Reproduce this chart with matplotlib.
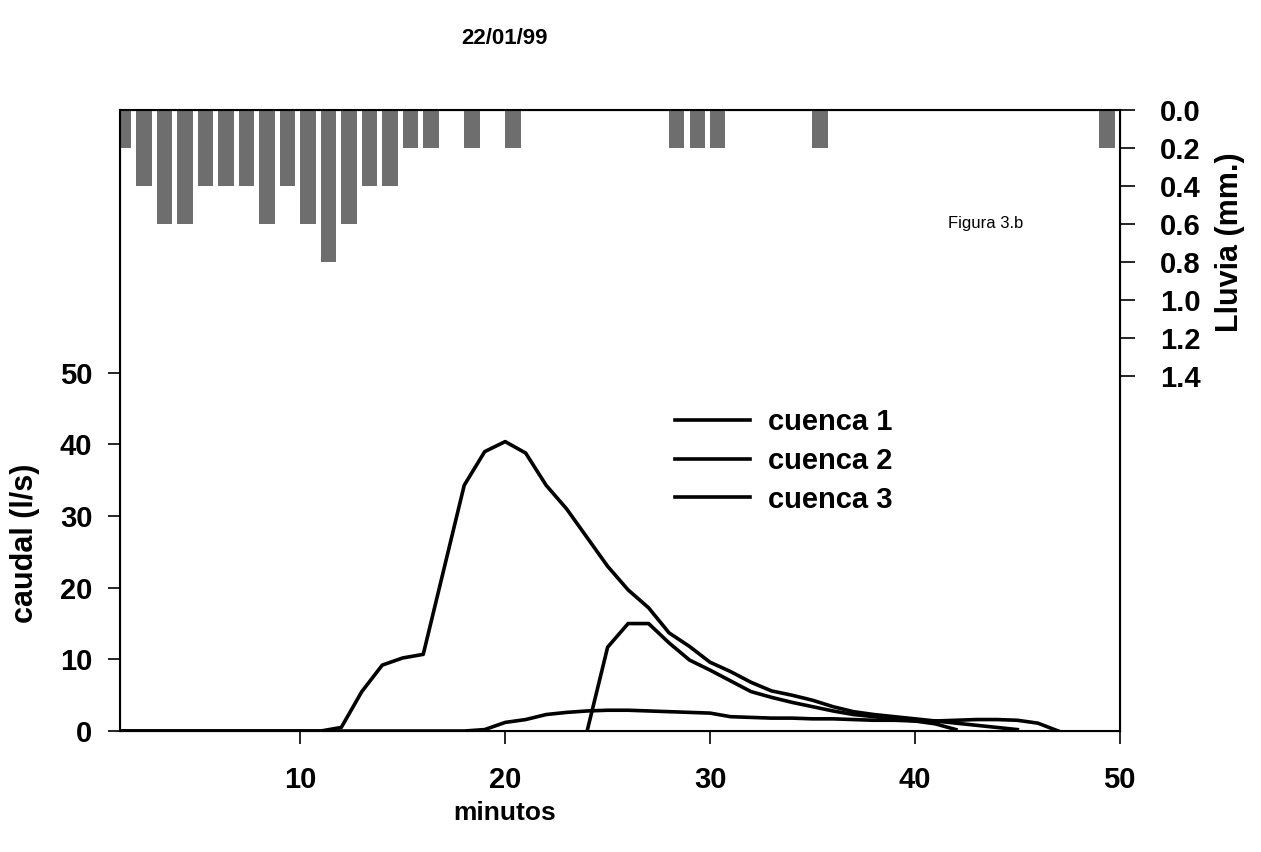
import matplotlib
matplotlib.use('Agg')
import matplotlib.pyplot as plt

# Rainfall per minute (mm.), bars hang from the top axis
rain_minutes = [1, 2, 3, 4, 5, 6, 7, 8, 9, 10, 11, 12, 13, 14, 15, 16,
                18, 20, 28, 29, 30, 35, 49]
rain_mm = [0.2, 0.4, 0.6, 0.6, 0.4, 0.4, 0.4, 0.6, 0.4, 0.6, 0.8, 0.6,
           0.4, 0.4, 0.2, 0.2, 0.2, 0.2, 0.2, 0.2, 0.2, 0.2, 0.2]

# Discharge (l/s) per minute
minutes_1 = list(range(1, 46))
cuenca_1 = [0, 0, 0, 0, 0, 0, 0, 0, 0, 0, 0, 0.5, 5.5, 9.2, 10.2, 10.7,
            22.5, 34.3, 39.0, 40.4, 38.8, 34.3, 31.0, 27.0, 23.0, 19.7,
            17.2, 13.7, 11.8, 9.6, 8.3, 6.8, 5.6, 5.0, 4.3, 3.4, 2.7, 2.3,
            2.0, 1.7, 1.4, 1.1, 0.8, 0.5, 0.2]

minutes_2 = list(range(1, 48))
cuenca_2 = [0, 0, 0, 0, 0, 0, 0, 0, 0, 0, 0, 0, 0, 0, 0, 0, 0, 0, 0.2,
            1.2, 1.6, 2.3, 2.6, 2.8, 2.9, 2.9, 2.8, 2.7, 2.6, 2.5, 2.0,
            1.9, 1.8, 1.8, 1.7, 1.7, 1.6, 1.5, 1.5, 1.4, 1.4, 1.5, 1.6,
            1.6, 1.5, 1.1, 0]

minutes_3 = list(range(24, 43))
cuenca_3 = [0, 11.7, 15.0, 15.0, 12.3, 9.9, 8.5, 7.0, 5.5, 4.7, 4.0, 3.4,
            2.8, 2.3, 2.0, 1.7, 1.4, 1.0, 0.2]

q_ticks = [0, 10, 20, 30, 40, 50]
rain_ticks = [0.0, 0.2, 0.4, 0.6, 0.8, 1.0, 1.2, 1.4]
x_ticks = [10, 20, 30, 40, 50]


def create_file(out_file_name):
    """
    Draw hydrographs of the three basins with the rainfall on top
    """
    plt.rcParams['font.family'] = ['Liberation Sans', 'DejaVu Sans']
    plt.rcParams['font.weight'] = 'bold'

    fig = plt.figure(figsize=(12.61, 8.52), dpi=100)
    ax = fig.add_axes([0.0952, 0.142, 0.7928, 0.729])

    # Discharge lines
    ax.plot(minutes_1, cuenca_1, color='black', lw=2.6, label='cuenca 1')
    ax.plot(minutes_2, cuenca_2, color='black', lw=2.6, label='cuenca 2')
    ax.plot(minutes_3, cuenca_3, color='black', lw=2.6, label='cuenca 3')

    ax.set_xlim(1.2, 50)
    ax.set_ylim(0, 86.7)
    ax.set_xticks(x_ticks)
    ax.set_yticks(q_ticks)
    ax.tick_params(axis='both', direction='out', length=9, width=1.2,
                   labelsize=21)
    ax.tick_params(axis='y', pad=11)
    ax.tick_params(axis='x', pad=16)
    for s in ax.spines.values():
        s.set_linewidth(1.5)

    ax.set_ylabel('caudal (l/s)', fontsize=22, fontweight='bold')
    ax.yaxis.set_label_coords(-0.080, 0.303)
    ax.set_xlabel('minutos', fontsize=19, fontweight='bold')
    ax.xaxis.set_label_coords(0.385, -0.113)

    leg = ax.legend(loc='upper left', bbox_to_anchor=(0.555, 0.52),
                    frameon=False, fontsize=21, handlelength=2.57,
                    handletextpad=0.62, labelspacing=0.37, borderpad=0,
                    borderaxespad=0)
    for t in leg.get_texts():
        t.set_fontweight('bold')

    # Rainfall bars on a reversed right axis
    ax2 = ax.twinx()
    ax2.bar(rain_minutes, rain_mm, width=0.75, align='edge',
            color='#6e6e6e', edgecolor='none')
    ax2.set_ylim(3.27, 0)
    ax2.set_yticks(rain_ticks)
    ax2.set_yticklabels(['%.1f' % v for v in rain_ticks])
    ax2.tick_params(axis='y', direction='out', length=11, width=1.2,
                    labelsize=21, pad=18)
    ax2.set_ylabel('Lluvia (mm.)', fontsize=22, fontweight='bold')
    ax2.yaxis.set_label_coords(1.095, 0.787)
    ax2.text(41.6, 0.6, 'Figura 3.b', fontsize=12, fontweight='normal',
             va='center', ha='left')

    fig.text(505 / 1261, 1 - 38 / 852, '22/01/99', fontsize=16,
             fontweight='bold', ha='center', va='center')

    plt.savefig(out_file_name, dpi=100)
    return True


def main():
    success = create_file('out.png')
    if success:
        print('Finished successfully and wrote results to: out.png')


if __name__ == '__main__':
    main()
